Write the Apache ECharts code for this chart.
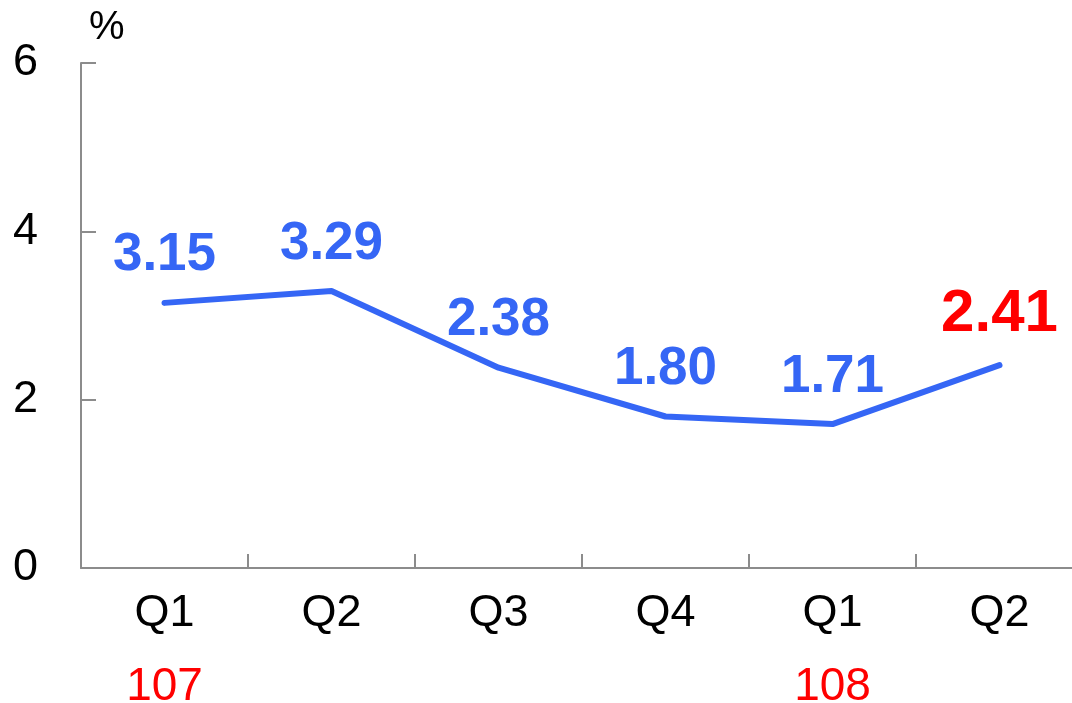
<!DOCTYPE html>
<html>
<head>
<meta charset="utf-8">
<script src="https://cdn.jsdelivr.net/npm/echarts@6/dist/echarts.min.js"></script>
<style>
html,body{margin:0;padding:0;background:#fff;}
#chart{width:1072px;height:703px;}
</style>
</head>
<body>
<div id="chart"></div>
<script>
// 季度 / 年度 / 数值
var quarters = ['Q1', 'Q2', 'Q3', 'Q4', 'Q1', 'Q2'];
var years = ['107', '', '', '', '108', ''];
var rates = [3.15, 3.29, 2.38, 1.80, 1.71, 2.41];
var yTicks = [0, 2, 4, 6];

var fontName = '"Liberation Sans", Arial, sans-serif';
var blue = '#3566f5';
var axisGray = '#8c8c8c';

var chart = echarts.init(document.getElementById('chart'));

// 最后一个点单独标红加大
var seriesData = rates.map(function (v, i) {
	var item = { value: v };
	if (i == rates.length - 1) {
		item.label = { color: '#ff0000', fontSize: 60, distance: 20 };
	}
	return item;
});

var option = {
	animation: false,
	grid: { left: 81, width: 1002, top: 63, bottom: 135, containLabel: false, outerBoundsMode: 'none' },
	xAxis: {
		type: 'category',
		data: quarters,
		boundaryGap: true,
		axisLine: { lineStyle: { color: axisGray, width: 2 } },
		axisTick: { show: true, interval: 0, inside: true, length: 14, lineStyle: { color: axisGray, width: 2 } },
		axisLabel: {
			margin: 10,
			interval: 0,
			formatter: function (val, idx) {
				return '{q|' + val + '}\n{y|' + (years[idx] || ' ') + '}';
			},
			rich: {
				q: { fontSize: 45, color: '#000', fontFamily: fontName, lineHeight: 72 },
				y: { fontSize: 46, color: '#ff0000', fontFamily: fontName, lineHeight: 74 }
			}
		}
	},
	yAxis: {
		type: 'value',
		min: yTicks[0],
		max: yTicks[yTicks.length - 1],
		interval: 2,
		name: '%',
		nameLocation: 'end',
		nameGap: 15,
		nameTextStyle: { fontSize: 40, color: '#000', fontFamily: fontName, align: 'left', padding: [0, 0, 0, 8] },
		axisLine: { show: true, lineStyle: { color: axisGray, width: 2 } },
		axisTick: { show: true, inside: true, length: 15, lineStyle: { color: axisGray, width: 2 } },
		splitLine: { show: false },
		axisLabel: { fontSize: 45, color: '#000', fontFamily: fontName, margin: 43 }
	},
	series: [{
		type: 'line',
		data: seriesData,
		showSymbol: true,
		symbol: 'circle',
		symbolSize: 1,
		itemStyle: { color: 'rgba(0,0,0,0)' },
		lineStyle: { color: blue, width: 6, cap: 'round', join: 'round' },
		label: {
			show: true,
			position: 'top',
			distance: 20,
			color: blue,
			fontSize: 53,
			fontWeight: 'bold',
			fontFamily: fontName,
			formatter: function (p) { return p.value.toFixed(2); }
		}
	}]
};
chart.setOption(option);
</script>
</body>
</html>
